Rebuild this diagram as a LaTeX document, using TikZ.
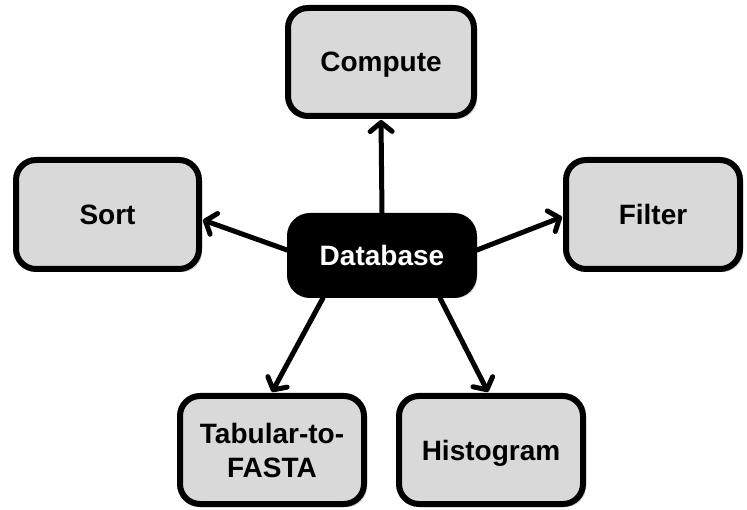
\documentclass[tikz,border=0pt]{standalone}
\usepackage{fontspec}
\setmainfont{Liberation Sans}
\usetikzlibrary{arrows.meta,shadows}
\begin{document}
\begin{tikzpicture}[x=1pt,y=-1pt,
  box/.style={draw=black, line width=6pt, rounded corners=20pt, fill=boxgray,
    align=center, inner sep=0pt, font=\fontsize{28}{34}\selectfont\bfseries,
    drop shadow={shadow xshift=3pt, shadow yshift=-3pt, opacity=0.18, fill=black}},
  hub/.style={box, fill=black, text=white},
  flat/.style={text depth=0pt},
  link/.style={line width=5pt, line cap=round,
    -{Straight Barb[length=9pt, width=22pt, line cap=round, line join=round]}}]
\definecolor{boxgray}{HTML}{D9D9D9}
\useasboundingbox (0,0) rectangle (747,510);

\node[hub, minimum width=184pt, minimum height=79pt] (db) at (382,255.5) {Database};
\node[box, flat, minimum width=186pt, minimum height=108pt] (comp) at (381,62) {Compute};
\node[box, minimum width=183pt, minimum height=109pt] (sort) at (107.5,214.5) {Sort};
\node[box, minimum width=174pt, minimum height=109pt] (filt) at (653,214.5) {Filter};
\node[box, minimum width=184pt, minimum height=108pt] (tab) at (272,450) {Tabular-to-\\FASTA};
\node[box, flat, minimum width=184pt, minimum height=108pt] (hist) at (491,450) {Histogram};

\draw[link] (db.north) -- ([yshift=-1pt]comp.south);
\draw[link] ([yshift=5.5pt]db.west) -- ([xshift=1pt,yshift=-5.5pt]sort.east);
\draw[link] ([yshift=5.5pt]db.east) -- ([xshift=-1pt,yshift=-2.5pt]filt.west);
\draw[link] ([xshift=-59pt]db.south) -- ([xshift=0pt,yshift=1pt]tab.north);
\draw[link] ([xshift=58pt]db.south) -- ([xshift=-3pt,yshift=1pt]hist.north);
\end{tikzpicture}
\end{document}
